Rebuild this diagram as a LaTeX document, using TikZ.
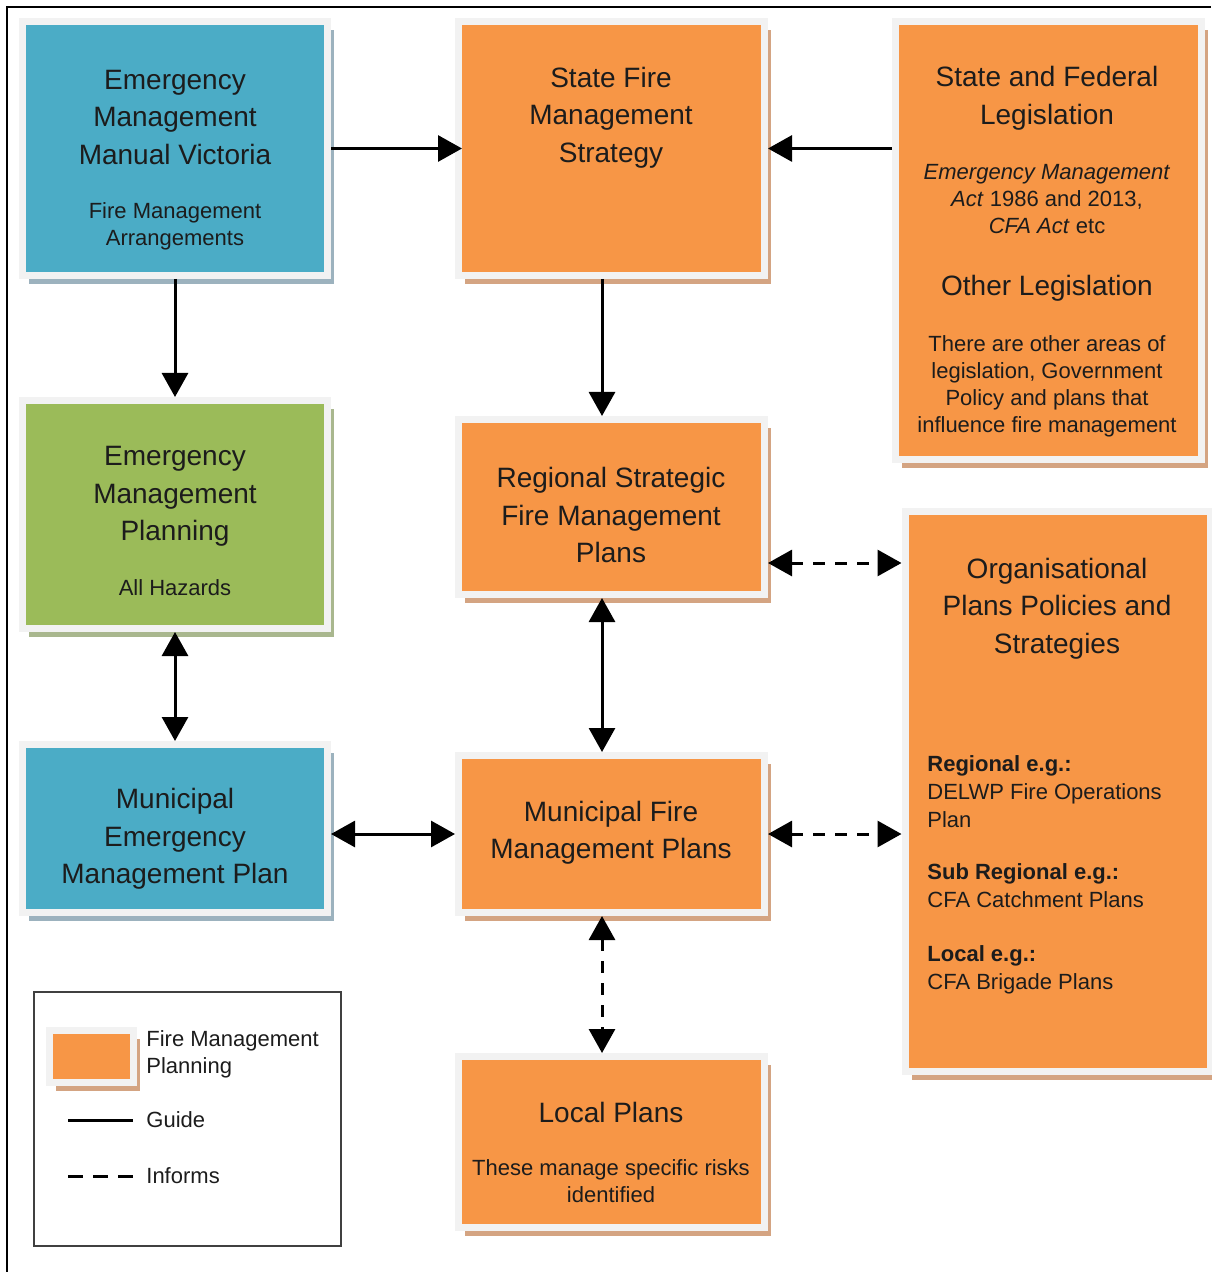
\documentclass[tikz,border=0pt]{standalone}
\usepackage{fontspec}
\setmainfont{Liberation Sans}
\usetikzlibrary{arrows.meta,shadows}
\definecolor{emblue}{HTML}{4BACC6}
\definecolor{fmorange}{HTML}{F79646}
\definecolor{emgreen}{HTML}{9BBB59}
\definecolor{boxframe}{HTML}{F2F2F2}
\definecolor{blueshade}{HTML}{9CB2BE}
\definecolor{orangeshade}{HTML}{D4A482}
\definecolor{greenshade}{HTML}{A9B78E}
\definecolor{textdark}{HTML}{1C1C1C}
\tikzset{
  box/.style={draw=boxframe, line width=3.5pt, inner sep=0pt},
  blueplan/.style={box, fill=emblue, general shadow={fill=blueshade, shadow xshift=3.25pt, shadow yshift=-4.25pt}},
  orangeplan/.style={box, fill=fmorange, general shadow={fill=orangeshade, shadow xshift=3.25pt, shadow yshift=-4.25pt}},
  greenplan/.style={box, fill=emgreen, general shadow={fill=greenshade, shadow xshift=3.25pt, shadow yshift=-4.25pt}},
  title/.style={font=\fontsize{14}{18.75}\selectfont, align=center, text=textdark, inner sep=0pt},
  detail/.style={font=\fontsize{11}{13.5}\selectfont, align=center, text=textdark, inner sep=0pt},
  guide/.style={line width=1.5pt},
  informs/.style={line width=1.5pt, dash pattern=on 6pt off 5pt}
}
\begin{document}
\begin{tikzpicture}[x=0.5pt, y=-0.5pt, >={Triangle[length=12pt,width=13pt]}]
  \useasboundingbox (0,0) rectangle (1211,1272);
  \draw[line width=1pt] (7,1272) -- (7,7) -- (1211,7);

  % boxes
  \node[blueplan, minimum width=152.5pt, minimum height=127pt] (emmv) at (175,148.5) {};
  \node[orangeplan, minimum width=153pt, minimum height=127pt] (sfms) at (611.5,148.5) {};
  \node[orangeplan, minimum width=153pt, minimum height=219pt] (sfl) at (1048.5,240.5) {};
  \node[greenplan, minimum width=152.5pt, minimum height=114pt] (emp) at (175,514.5) {};
  \node[orangeplan, minimum width=153pt, minimum height=87.5pt] (rsfmp) at (611.5,507) {};
  \node[orangeplan, minimum width=152.5pt, minimum height=280pt] (org) at (1057.5,791.5) {};
  \node[blueplan, minimum width=152.5pt, minimum height=84pt] (memp) at (175,828.5) {};
  \node[orangeplan, minimum width=153pt, minimum height=78.5pt] (mfmp) at (611.5,834) {};
  \node[orangeplan, minimum width=153pt, minimum height=85.5pt] (localplans) at (611.5,1142) {};

  % texts
  \node[title] (emmvTitle) at (175,117.5) {Emergency\\Management\\Manual Victoria};
  \node[detail] (emmvDetail) at (175,226) {Fire Management\\Arrangements};
  \node[title] (sfmsTitle) at (611,117.5) {State Fire\\Management\\Strategy};
  \node[title] (sflTitle) at (1047,98.5) {State and Federal\\Legislation};
  \node[detail] (sflActs) at (1047,199.5) {\textit{Emergency Management}\\\textit{Act} 1986 and 2013,\\\textit{CFA Act} etc};
  \node[title] (otherTitle) at (1047,288) {Other Legislation};
  \node[detail] (otherDetail) at (1047,386.5) {There are other areas of\\legislation, Government\\Policy and plans that\\influence fire management};
  \node[title] (empTitle) at (175,496.5) {Emergency\\Management\\Planning};
  \node[detail] (empDetail) at (175,588) {All Hazards};
  \node[title] (rsfmpTitle) at (611,515) {Regional Strategic\\Fire Management\\Plans};
  \node[title] (orgTitle) at (1057,608.5) {Organisational\\Plans Policies and\\Strategies};
  \node[detail, align=left, anchor=north west, font=\fontsize{11}{14}\selectfont] (orgDetail) at (927,755)
    {\textbf{Regional e.g.:}\\DELWP Fire Operations\\Plan\\[12pt]\textbf{Sub Regional e.g.:}\\CFA Catchment Plans\\[13pt]\textbf{Local e.g.:}\\CFA Brigade Plans};
  \node[title] (mempTitle) at (175,839) {Municipal\\Emergency\\Management Plan};
  \node[title] (mfmpTitle) at (611,833) {Municipal Fire\\Management Plans};
  \node[title] (localTitle) at (611,1112) {Local Plans};
  \node[detail] (localDetail) at (611,1181.5) {These manage specific risks\\identified};

  % legend
  \draw[draw=black!75, line width=1pt] (34,992) rectangle (341,1246);
  \node[orangeplan, minimum width=42pt, minimum height=26pt] (keyBox) at (91.5,1056.5) {};
  \node[detail, align=left, anchor=west] (keyBoxText) at (146,1054) {Fire Management\\Planning};
  \node[detail, anchor=west] (guideText) at (146,1120) {Guide};
  \node[detail, anchor=west] (informsText) at (146,1176) {Informs};
  \draw[guide] (68,1120) -- (133,1120);
  \draw[guide, dash pattern=on 7.5pt off 5pt] (68,1176) -- (133,1176);

  % connectors
  \coordinate (rsOrg) at ([yshift=-28pt]rsfmp.east);
  \draw[guide, ->, shorten >=-3.5pt] (emmv.east) -- (sfms.west);
  \draw[guide, ->] (sfl.west |- sfms.east) -- (sfms.east);
  \draw[guide, ->] (emmv.south) -- (emp.north);
  \draw[guide, ->] ([xshift=-4.75pt]sfms.south) -- ([xshift=-4.75pt]rsfmp.north);
  \draw[guide, <->] (emp.south) -- (memp.north);
  \draw[guide, <->] ([xshift=-4.75pt]rsfmp.south) -- ([xshift=-4.75pt]mfmp.north);
  \draw[guide, <->] (memp.east |- mfmp.west) -- (mfmp.west);
  \draw[informs, <->] (rsOrg) -- (rsOrg -| org.west);
  \draw[informs, <->] (mfmp.east) -- (mfmp.east -| org.west);
  \draw[informs, <->] ([xshift=-4.75pt]mfmp.south) -- ([xshift=-4.75pt]localplans.north);
\end{tikzpicture}
\end{document}
